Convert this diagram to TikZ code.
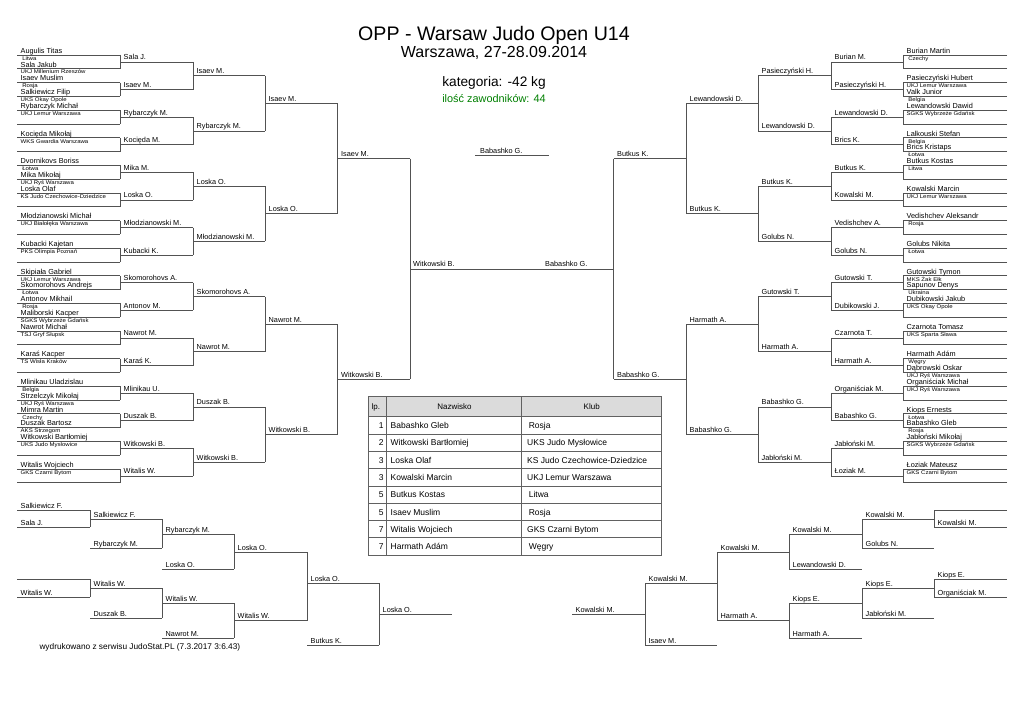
\documentclass[tikz,border=0pt]{standalone}
\usepackage{fontspec}
\setmainfont{Liberation Sans}
\newfontfamily\clubfont[FakeStretch=1.12]{Liberation Sans}
\newcommand\cty{\kern1.6pt}
\newcounter{rc}
\begin{document}
\begin{tikzpicture}[x=1pt,y=-1pt,
  ln/.style={draw=black!68,line width=0.75pt},
  nm/.style={anchor=base west,inner sep=0pt,font=\fontsize{7.3}{8}\selectfont},
  lb/.style={anchor=base west,inner sep=0pt,font=\fontsize{7.3}{8}\selectfont},
  cb/.style={anchor=base west,inner sep=0pt,font=\clubfont\fontsize{5.4}{6}\selectfont},
  tb/.style={anchor=base west,inner sep=0pt,font=\fontsize{8.5}{9}\selectfont},
  tbline/.style={draw=black!62,line width=0.8pt}]
\useasboundingbox (0,0) rectangle (1024,725);
\fill[white] (0,0) rectangle (1024,725);

% ---------- titles ----------
\node[anchor=base,inner sep=0pt,font=\fontsize{19.6}{22}\selectfont] (title) at (494,40.5) {OPP - Warsaw Judo Open U14};
\node[anchor=base,inner sep=0pt,font=\fontsize{16}{18}\selectfont] (place) at (494,58) {Warszawa, 27-28.09.2014};
\node[anchor=base,inner sep=0pt,font=\fontsize{13.7}{15}\selectfont] (cat) at (494,86) {kategoria: -42 kg};
\node[anchor=base,inner sep=0pt,text={rgb,255:red,0;green,128;blue,0},font=\fontsize{10.9}{12}\selectfont] (cnt) at (494,102.5) {ilość zawodników: 44};

% ---------- main bracket lines ----------
\foreach \L/\xa/\xb/\ra/\rb/\n in {1/17/120/1007/903/31, 2/120/193/903/831/15, 3/193/265/831/758/7, 4/265/337.5/758/686/3, 5/337.5/410/686/613.5/1} {
  \pgfmathsetmacro\s{13.8*2^(\L-1)}
  \pgfmathsetmacro\yo{55+(\s-13.8)/2}
  \foreach \k in {0,...,\n} {
    \pgfmathsetmacro\y{\yo+\s*\k}
    \draw[ln] (\xa,\y) -- (\xb,\y);
    \draw[ln] (\ra,\y) -- (\rb,\y);
  }
  \pgfmathtruncatemacro\m{(\n-1)/2}
  \foreach \j in {0,...,\m} {
    \pgfmathsetmacro\ya{\yo+\s*2*\j}
    \pgfmathsetmacro\yb{\ya+\s}
    \draw[ln] (\xb,\ya) -- (\xb,\yb);
    \draw[ln] (\rb,\ya) -- (\rb,\yb);
  }
}
\draw[ln] (410,268.9) -- (613.5,268.9);
\draw[ln] (475,155) -- (549,155);

% ---------- first round, left ----------
\foreach \k/\nmx/\cl in {0/Augulis Titas/\cty Litwa, 1/Sala Jakub/UKJ Millenium Rzeszów, 2/Isaev Muslim/\cty Rosja, 3/Salkiewicz Filip/UKS Okay Opole, 4/Rybarczyk Michał/UKJ Lemur Warszawa, 6/Kocięda Mikołaj/WKS Gwardia Warszawa, 8/Dvornikovs Boriss/\cty Łotwa, 9/Mika Mikołaj/UKJ Ryś Warszawa, 10/Loska Olaf/KS Judo Czechowice-Dziedzice, 12/Młodzianowski Michał/UKJ Białołęka Warszawa, 14/Kubacki Kajetan/PKS Olimpia Poznań, 16/Skipiała Gabriel/UKJ Lemur Warszawa, 17/Skomorohovs Andrejs/\cty Łotwa, 18/Antonov Mikhail/\cty Rosja, 19/Maliborski Kacper/SGKS Wybrzeże Gdańsk, 20/Nawrot Michał/TSJ Gryf Słupsk, 22/Karaś Kacper/TS Wisła Kraków, 24/Mlinikau Uladzislau/\cty Belgia, 25/Strzelczyk Mikołaj/UKJ Ryś Warszawa, 26/Mimra Martin/\cty Czechy, 27/Duszak Bartosz/AKS Strzegom, 28/Witkowski Bartłomiej/UKS Judo Mysłowice, 30/Witalis Wojciech/GKS Czarni Bytom} {
  \node[nm] (LN\k) at (20.5,{55+13.8*\k-1.8}) {\nmx};
  \node[cb] (LC\k) at (20.5,{55+13.8*\k+5.2}) {\cl};
}
% ---------- first round, right ----------
\foreach \k/\nmx/\cl in {0/Burian Martin/\cty Czechy, 2/Pasieczyński Hubert/UKJ Lemur Warszawa, 3/Valk Junior/\cty Belgia, 4/Lewandowski Dawid/SGKS Wybrzeże Gdańsk, 6/Lalkouski Stefan/\cty Belgia, 7/Brics Kristaps/\cty Łotwa, 8/Butkus Kostas/\cty Litwa, 10/Kowalski Marcin/UKJ Lemur Warszawa, 12/Vedishchev Aleksandr/\cty Rosja, 14/Golubs Nikita/\cty Łotwa, 16/Gutowski Tymon/MKS Żak Ełk, 17/Sapunov Denys/\cty Ukraina, 18/Dubikowski Jakub/UKS Okay Opole, 20/Czarnota Tomasz/UKS Sparta Sława, 22/Harmath Adám/\cty Węgry, 23/Dąbrowski Oskar/UKJ Ryś Warszawa, 24/Organiściak Michał/UKJ Ryś Warszawa, 26/Kiops Ernests/\cty Łotwa, 27/Babashko Gleb/\cty Rosja, 28/Jabłoński Mikołaj/SGKS Wybrzeże Gdańsk, 30/Łoziak Mateusz/GKS Czarni Bytom} {
  \node[nm] (RN\k) at (906.5,{55+13.8*\k-1.8}) {\nmx};
  \node[cb] (RC\k) at (906.5,{55+13.8*\k+5.2}) {\cl};
}

% ---------- winners, left ----------
\foreach \t [count=\c from 0] in {Sala J., Isaev M., Rybarczyk M., Kocięda M., Mika M., Loska O., Młodzianowski M., Kubacki K., Skomorohovs A., Antonov M., Nawrot M., Karaś K., Mlinikau U., Duszak B., Witkowski B., Witalis W.}
  {\node[lb] (LA\c) at (123.5,{61.9+27.6*\c-2}) {\t};}
\foreach \t [count=\c from 0] in {Isaev M., Rybarczyk M., Loska O., Młodzianowski M., Skomorohovs A., Nawrot M., Duszak B., Witkowski B.}
  {\node[lb] (LB\c) at (196.5,{75.7+55.2*\c-2}) {\t};}
\foreach \t [count=\c from 0] in {Isaev M., Loska O., Nawrot M., Witkowski B.}
  {\node[lb] (LD\c) at (268.5,{103.3+110.4*\c-2}) {\t};}
\foreach \t [count=\c from 0] in {Isaev M., Witkowski B.}
  {\node[lb] (LE\c) at (341,{158.5+220.8*\c-2}) {\t};}
% ---------- winners, right ----------
\foreach \t [count=\c from 0] in {Burian M., Pasieczyński H., Lewandowski D., Brics K., Butkus K., Kowalski M., Vedishchev A., Golubs N., Gutowski T., Dubikowski J., Czarnota T., Harmath A., Organiściak M., Babashko G., Jabłoński M., Łoziak M.}
  {\node[lb] (RA\c) at (834.5,{61.9+27.6*\c-2}) {\t};}
\foreach \t [count=\c from 0] in {Pasieczyński H., Lewandowski D., Butkus K., Golubs N., Gutowski T., Harmath A., Babashko G., Jabłoński M.}
  {\node[lb] (RB\c) at (761.5,{75.7+55.2*\c-2}) {\t};}
\foreach \t [count=\c from 0] in {Lewandowski D., Butkus K., Harmath A., Babashko G.}
  {\node[lb] (RD\c) at (689.5,{103.3+110.4*\c-2}) {\t};}
\foreach \t [count=\c from 0] in {Butkus K., Babashko G.}
  {\node[lb] (RE\c) at (617,{158.5+220.8*\c-2}) {\t};}
% final
\node[lb] (finL) at (413,266.9) {Witkowski B.};
\node[lb] (finR) at (545,266.9) {Babashko G.};
\node[lb] (champ) at (480,153) {Babashko G.};

% ---------- repechage ----------
\newcommand\rl[4]{\draw[ln] (#1,#3) -- (#2,#3);
  \stepcounter{rc}\node[lb] (rp\arabic{rc}) at ({#1+3.5},{#3-2}) {#4};}
\newcommand\vl[3]{\draw[ln] (#1,#2) -- (#1,#3);}
% left
\rl{17}{90}{510}{Salkiewicz F.}
\rl{17}{90}{527}{Sala J.}
\vl{90}{510}{527}
\rl{90}{162}{519}{Salkiewicz F.}
\rl{90}{162}{548}{Rybarczyk M.}
\vl{162}{519}{548}
\rl{162}{234}{534}{Rybarczyk M.}
\rl{162}{234}{569}{Loska O.}
\vl{234}{534}{569}
\rl{234}{307}{552}{Loska O.}
\rl{17}{90}{579}{}
\rl{17}{90}{597}{Witalis W.}
\vl{90}{579}{597}
\rl{90}{162}{588}{Witalis W.}
\rl{90}{162}{618}{Duszak B.}
\vl{162}{588}{618}
\rl{162}{234}{603}{Witalis W.}
\rl{162}{234}{638}{Nawrot M.}
\vl{234}{603}{638}
\rl{234}{307}{620.5}{Witalis W.}
\vl{307}{552}{620.5}
\rl{307}{379}{583}{Loska O.}
\rl{307}{379}{645}{Butkus K.}
\vl{379}{583}{645}
\rl{379}{452}{614}{Loska O.}
% right
\rl{934}{1007}{510}{}
\rl{934}{1007}{527}{Kowalski M.}
\vl{934}{510}{527}
\rl{862}{934}{519}{Kowalski M.}
\rl{862}{934}{548}{Golubs N.}
\vl{862}{519}{548}
\rl{789}{862}{534}{Kowalski M.}
\rl{789}{862}{569}{Lewandowski D.}
\vl{789}{534}{569}
\rl{717}{789}{552}{Kowalski M.}
\rl{934}{1007}{579}{Kiops E.}
\rl{934}{1007}{597}{Organiściak M.}
\vl{934}{579}{597}
\rl{862}{934}{588}{Kiops E.}
\rl{862}{934}{618}{Jabłoński M.}
\vl{862}{588}{618}
\rl{789}{862}{603}{Kiops E.}
\rl{789}{862}{638}{Harmath A.}
\vl{789}{603}{638}
\rl{717}{789}{620.5}{Harmath A.}
\vl{717}{552}{620.5}
\rl{645}{717}{583}{Kowalski M.}
\rl{645}{717}{645}{Isaev M.}
\vl{645}{583}{645}
\rl{572}{645}{614}{Kowalski M.}

% ---------- results table ----------
\fill[black!14] (368.3,396.7) rectangle (661.7,416.7);
\foreach \r in {0,...,8} {\draw[tbline] (368.3,{416.7+17.3*\r}) -- (661.7,{416.7+17.3*\r});}
\draw[tbline] (368.3,396.7) rectangle (661.7,555.1);
\draw[tbline] (386.7,396.7) -- (386.7,555.1);
\draw[tbline] (521.7,396.7) -- (521.7,555.1);
\node[anchor=base west,inner sep=0pt,font=\fontsize{8}{9}\selectfont] (hlp) at (371.5,409.5) {lp.};
\node[anchor=base,inner sep=0pt,font=\fontsize{8}{9}\selectfont] (hnaz) at (454.5,409.5) {Nazwisko};
\node[anchor=base,inner sep=0pt,font=\fontsize{8}{9}\selectfont] (hklub) at (591.7,409.5) {Klub};
\foreach \p/\nmx/\cl [count=\r from 0] in {1/Babashko Gleb/\cty Rosja, 2/Witkowski Bartłomiej/UKS Judo Mysłowice, 3/Loska Olaf/KS Judo Czechowice-Dziedzice, 3/Kowalski Marcin/UKJ Lemur Warszawa, 5/Butkus Kostas/\cty Litwa, 5/Isaev Muslim/\cty Rosja, 7/Witalis Wojciech/GKS Czarni Bytom, 7/Harmath Adám/\cty Węgry} {
  \node[anchor=base east,inner sep=0pt,font=\fontsize{8.5}{9}\selectfont] (tp\r) at (383.8,{428.6+17.3*\r}) {\p};
  \node[tb] (tn\r) at (390.5,{428.6+17.3*\r}) {\nmx};
  \node[tb] (tc\r) at (527,{428.6+17.3*\r}) {\cl};
}

% ---------- footer ----------
\node[anchor=base west,inner sep=0pt,font=\fontsize{8.3}{9}\selectfont] (foot) at (39.3,649) {wydrukowano z serwisu JudoStat.PL (7.3.2017 3:6.43)};
\end{tikzpicture}
\end{document}
